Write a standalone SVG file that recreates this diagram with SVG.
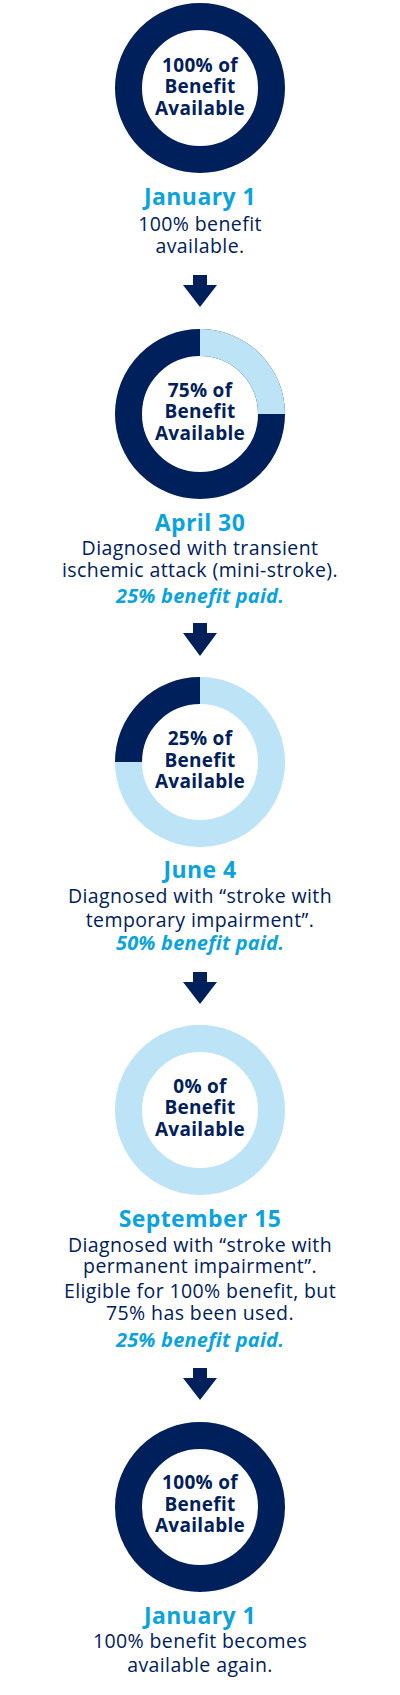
<svg xmlns="http://www.w3.org/2000/svg" width="400" height="1695" viewBox="0 0 400 1695">
<style>
.bg{fill:#ffffff}
.navy{fill:none;stroke:#00205b;stroke-width:27}
.light{fill:none;stroke:#bde3f7;stroke-width:27}
.in{font-family:"Open Sans","Liberation Sans",sans-serif;font-weight:700;font-size:19px;letter-spacing:0.3px;fill:#00205b;text-anchor:middle}
.date{font-family:"Open Sans","Liberation Sans",sans-serif;font-weight:700;font-size:23px;letter-spacing:0.4px;fill:#0aa3dc;text-anchor:middle}
.desc{font-family:"Open Sans","Liberation Sans",sans-serif;font-weight:400;font-size:19.5px;letter-spacing:0.4px;fill:#00205b;text-anchor:middle}
.paid{font-family:"Open Sans","Liberation Sans",sans-serif;font-weight:700;font-style:italic;font-size:20px;letter-spacing:0.2px;fill:#0aa3dc;text-anchor:middle}
.arrow{fill:#00205b}
</style>
<rect class="bg" x="0" y="0" width="400" height="1695"/>
<g id="node1">
<circle class="navy" cx="200" cy="88" r="71.5"/>
<text class="in" x="200" y="72">100% of</text>
<text class="in" x="200" y="93">Benefit</text>
<text class="in" x="200" y="115">Available</text>
<text class="date" x="200" y="205">January 1</text>
<text class="desc" x="200" y="231">100% benefit</text>
<text class="desc" x="200" y="253">available.</text>
</g>
<g id="node2">
<circle class="navy" cx="200" cy="414" r="71.5"/>
<path class="light" d="M200,342.5 A71.5,71.5 0 0 1 271.5,414"/>
<text class="in" x="200" y="397">75% of</text>
<text class="in" x="200" y="418">Benefit</text>
<text class="in" x="200" y="440">Available</text>
<text class="date" x="200" y="531">April 30</text>
<text class="desc" x="200" y="555">Diagnosed with transient</text>
<text class="desc" x="200" y="577">ischemic attack (mini-stroke).</text>
<text class="paid" x="200" y="603">25% benefit paid.</text>
</g>
<g id="node3">
<circle class="light" cx="200" cy="762" r="71.5"/>
<path class="navy" d="M128.5,762 A71.5,71.5 0 0 1 200,690.5"/>
<text class="in" x="200" y="745">25% of</text>
<text class="in" x="200" y="767">Benefit</text>
<text class="in" x="200" y="788">Available</text>
<text class="date" x="200" y="878">June 4</text>
<text class="desc" x="200" y="903">Diagnosed with “stroke with</text>
<text class="desc" x="200" y="927">temporary impairment”.</text>
<text class="paid" x="200" y="950">50% benefit paid.</text>
</g>
<g id="node4">
<circle class="light" cx="200" cy="1110" r="71.5"/>
<text class="in" x="200" y="1093">0% of</text>
<text class="in" x="200" y="1114">Benefit</text>
<text class="in" x="200" y="1136">Available</text>
<text class="date" x="200" y="1227">September 15</text>
<text class="desc" x="200" y="1252">Diagnosed with “stroke with</text>
<text class="desc" x="200" y="1273">permanent impairment”.</text>
<text class="desc" x="200" y="1298">Eligible for 100% benefit, but</text>
<text class="desc" x="200" y="1320">75% has been used.</text>
<text class="paid" x="200" y="1347">25% benefit paid.</text>
</g>
<g id="node5">
<circle class="navy" cx="200" cy="1507" r="71.5"/>
<text class="in" x="200" y="1489">100% of</text>
<text class="in" x="200" y="1511">Benefit</text>
<text class="in" x="200" y="1532">Available</text>
<text class="date" x="200" y="1624">January 1</text>
<text class="desc" x="200" y="1648">100% benefit becomes</text>
<text class="desc" x="200" y="1672">available again.</text>
</g>
<g id="connectors">
<polygon class="arrow" points="193,275 207,275 207,285 217,285 200,307 183,285 193,285"/>
<polygon class="arrow" points="193,623 207,623 207,633 217,633 200,656 183,633 193,633"/>
<polygon class="arrow" points="193,972 207,972 207,982 217,982 200,1004 183,982 193,982"/>
<polygon class="arrow" points="193,1368 207,1368 207,1378 217,1378 200,1400 183,1378 193,1378"/>
</g>
</svg>
